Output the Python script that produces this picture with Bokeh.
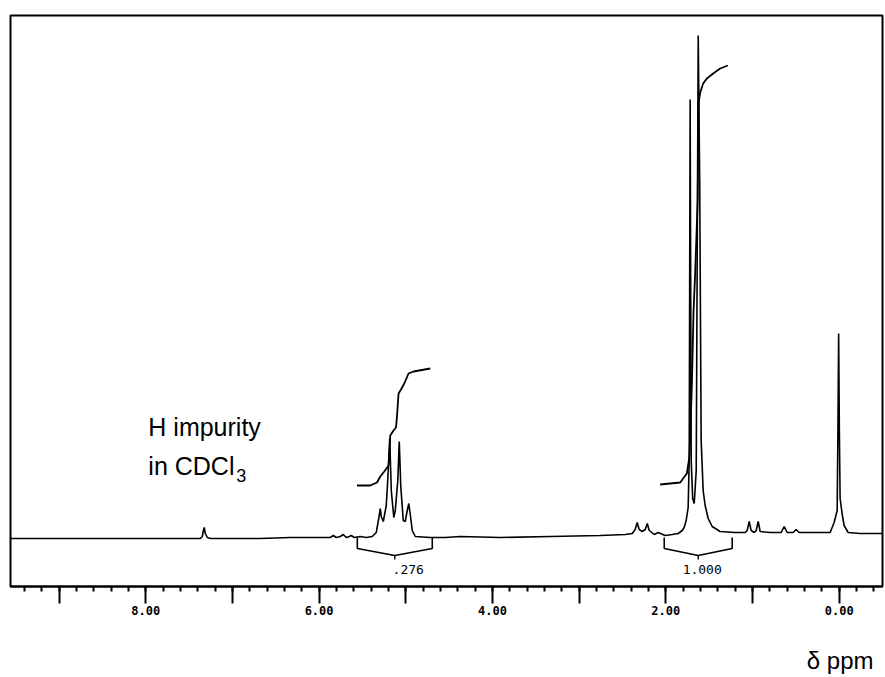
import numpy as np
from bokeh.plotting import figure
from bokeh.models import Range1d, LinearAxis, FixedTicker, Label, Title
from bokeh.embed import file_html
from bokeh.resources import INLINE

# ---- spectrum trace (chemical shift in ppm, intensity in arbitrary units, baseline ~0) ----
shift_ppm = [9.562, 8.985, 8.293, 7.370, 7.347, 7.335, 7.324, 7.313, 7.289, 7.250,
             6.678, 6.332, 6.217, 5.871, 5.836, 5.802, 5.755, 5.721, 5.686, 5.652,
             5.629, 5.594, 5.525, 5.456, 5.386, 5.340, 5.306, 5.294, 5.283, 5.259,
             5.225, 5.208, 5.185, 5.167, 5.138, 5.121, 5.092, 5.075, 5.058, 5.029,
             5.006, 4.983, 4.965, 4.948, 4.925, 4.890, 4.717, 4.544, 4.371, 3.910,
             3.333, 2.757, 2.468, 2.387, 2.353, 2.330, 2.307, 2.272, 2.237, 2.214,
             2.191, 2.134, 2.087, 2.007, 1.926, 1.857, 1.811, 1.788, 1.765, 1.742,
             1.730, 1.719, 1.707, 1.690, 1.672, 1.649, 1.626, 1.609, 1.592, 1.569,
             1.546, 1.511, 1.465, 1.373, 1.200, 1.084, 1.061, 1.038, 1.015, 0.980,
             0.957, 0.934, 0.911, 0.796, 0.669, 0.634, 0.600, 0.531, 0.496, 0.461,
             0.277, 0.196, 0.104, 0.058, 0.023, 0.014, 0.006, -0.002, -0.011, -0.034,
             -0.057, -0.104, -0.242, -0.495]
intensity = [0, 0, 0, 0, 2, 8, 11, 5, 1, 0,
             0, 1, 1, 1, 3, 1, 2, 4, 1, 2,
             3, 1, 2, 1, 2, 6, 23, 30, 22, 17,
             33, 58, 100, 48, 21, 28, 58, 97, 53, 18,
             17, 28, 35, 24, 8, 2, 1, 1, 2, 1,
             2, 3, 4, 5, 9, 16, 9, 7, 9, 15,
             8, 4, 6, 3, 4, 5, 8, 11, 18, 31,
             78, 439, 78, 40, 35, 68, 503, 358, 98, 48,
             33, 20, 12, 7, 6, 6, 8, 17, 8, 6,
             8, 17, 7, 6, 6, 12, 6, 6, 9, 6,
             6, 6, 6, 16, 28, 110, 205, 110, 40, 25,
             13, 6, 5, 5]

# ---- integral curves ----
integral_a_ppm = [5.563, 5.409, 5.332, 5.294, 5.248, 5.198, 5.187, 5.179, 5.141, 5.113,
                  5.102, 5.083, 5.055, 5.017, 4.968, 4.910, 4.717]
integral_a_val = [53, 53, 56, 62, 67, 73, 88, 103, 108, 111, 121, 145, 149, 155, 165, 167, 170]
integral_b_ppm = [2.065, 1.834, 1.757, 1.727, 1.699, 1.680, 1.661, 1.632, 1.623, 1.603,
                  1.569, 1.526, 1.453, 1.373, 1.284]
integral_b_val = [54, 56, 65, 82, 154, 227, 266, 338, 435, 446, 455, 460, 465, 470, 473]

# ---- integration regions ----
region_start = [5.559, 2.018]
region_end = [4.694, 1.234]
region_label = [".276", "1.000"]

# ---- axis ticks ----
integer_ticks = [9, 8, 7, 6, 5, 4, 3, 2, 1, 0]
integer_labels = ["", "8.00", "", "6.00", "", "4.00", "", "2.00", "", "0.00"]

p = figure(width=885, height=677,
           x_range=Range1d(9.56, -0.50), y_range=Range1d(-48, 523),
           output_backend="svg", toolbar_location=None,
           x_axis_location=None, y_axis_location=None,
           min_border_left=10, min_border_right=3, min_border_top=15,
           min_border_bottom=91)
p.grid.visible = False
p.outline_line_color = "black"
p.outline_line_width = 2
p.background_fill_color = "white"
p.border_fill_color = "white"

minor = [round(v, 1) for v in np.arange(-0.4, 9.5, 0.2)]
ax = LinearAxis(ticker=FixedTicker(ticks=integer_ticks, minor_ticks=minor),
                major_tick_out=17, major_tick_in=0, minor_tick_out=5, minor_tick_in=0,
                axis_line_width=2, axis_line_color="black",
                major_tick_line_width=2, minor_tick_line_width=2,
                major_label_overrides={t: s for t, s in zip(integer_ticks, integer_labels)},
                major_label_text_font="DejaVu Sans Mono",
                major_label_text_font_style="bold",
                major_label_text_font_size="12px",
                major_label_text_color="black",
                major_label_standoff=2)
p.add_layout(ax, "below")

p.add_layout(Title(text="\nδ ppm", align="right", offset=9, standoff=0,
                   vertical_align="bottom",
                   text_font="Liberation Sans", text_font_style="normal",
                   text_font_size="24px", text_color="black"), "below")

# spectrum
p.line(shift_ppm, intensity, line_color="black", line_width=1.6)
# integrals
p.line(integral_a_ppm, integral_a_val, line_color="black", line_width=1.8)
p.line(integral_b_ppm, integral_b_val, line_color="black", line_width=1.8)

# integration brackets
bx, by = [], []
for s, e in zip(region_start, region_end):
    m = (s + e) / 2
    bx.append([s, s, m, e, e])
    by.append([1, -10, -17, -10, 1])
p.multi_line(bx, by, line_color="black", line_width=1.6)
mids = [(s + e) / 2 for s, e in zip(region_start, region_end)]
p.segment(x0=mids, y0=[-17] * len(mids), x1=mids, y1=[-21] * len(mids),
          line_color="black", line_width=1.4)
label_pos = [4.971, 1.580]
for xpos, lab in zip(label_pos, region_label):
    p.add_layout(Label(x=xpos, y=-31, text=lab, text_align="center",
                       text_baseline="middle", text_font="DejaVu Sans Mono",
                       text_font_size="13px", text_color="black"))

# annotations
p.add_layout(Label(x=7.970, y=112, text="H impurity", text_font="Liberation Sans",
                   text_font_size="25px", text_color="black", text_baseline="alphabetic"))
p.add_layout(Label(x=7.970, y=73, text="in CDCl", text_font="Liberation Sans",
                   text_font_size="25px", text_color="black", text_baseline="alphabetic"))
p.add_layout(Label(x=6.955, y=63, text="3", text_font="Liberation Sans",
                   text_font_size="18px", text_color="black", text_baseline="alphabetic"))

open("out.html", "w").write(file_html(p, INLINE))
